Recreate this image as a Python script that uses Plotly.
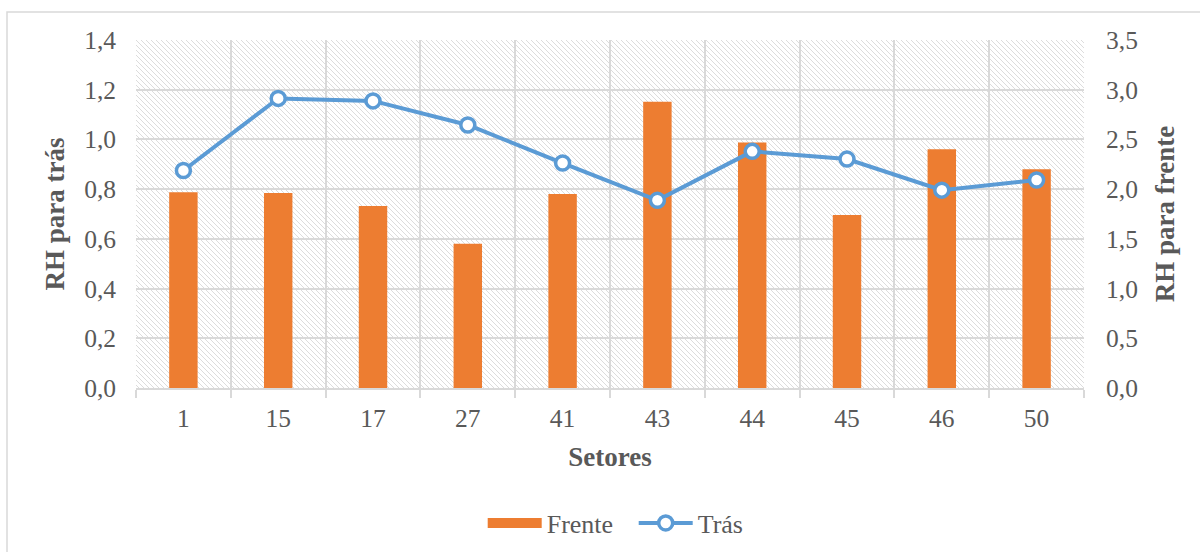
import base64
import plotly.graph_objects as go

# Sectors and relative humidity readings
setores = ["1", "15", "17", "27", "41", "43", "44", "45", "46", "50"]
frente = [1.97, 1.96, 1.83, 1.45, 1.95, 2.88, 2.47, 1.74, 2.40, 2.20]
tras = [0.875, 1.165, 1.155, 1.058, 0.905, 0.755, 0.952, 0.921, 0.796, 0.837]

ORANGE = "#ED7D31"
BLUE = "#5B9BD5"
GRID = "#D9D9D9"
TEXT = "#595959"
FONT = "Liberation Serif"

W, H = 1200, 552
ML, MR, MT, MB = 136, 116, 40, 164
PW, PH = W - ML - MR, H - MT - MB

# Light downward-diagonal hatch for the plot area background
hatch_svg = f"""<svg xmlns="http://www.w3.org/2000/svg" width="{PW}" height="{PH}">
<defs><pattern id="h" width="5" height="5" patternUnits="userSpaceOnUse">
<path d="M0,0 L5,5 M-1,4 L1,6 M4,-1 L6,1" stroke="#DCDCDC" stroke-width="1"/>
</pattern></defs>
<rect width="{PW}" height="{PH}" fill="#FFFFFF"/>
<rect width="{PW}" height="{PH}" fill="url(#h)"/>
</svg>"""
hatch_src = "data:image/svg+xml;base64," + base64.b64encode(hatch_svg.encode()).decode()

fig = go.Figure()

# Columns: RH para frente (right-hand scale)
fig.add_trace(go.Bar(
    x=setores, y=frente, name="Frente", yaxis="y",
    marker=dict(color=ORANGE, line=dict(width=0)),
    showlegend=False,
))
# Legend entry for the columns, drawn as a wide bar swatch
fig.add_trace(go.Scatter(
    x=[None], y=[None], name="Frente", yaxis="y", mode="lines",
    line=dict(color=ORANGE, width=11),
))
# Line: RH para trás (left-hand scale)
fig.add_trace(go.Scatter(
    x=setores, y=tras, name="Trás", yaxis="y2", mode="lines+markers",
    line=dict(color=BLUE, width=4),
    marker=dict(symbol="circle", size=14, color="#FFFFFF",
                line=dict(color=BLUE, width=3.5)),
))

fig.update_layout(
    width=W, height=H,
    margin=dict(l=ML, r=MR, t=MT, b=MB, autoexpand=False),
    paper_bgcolor="#FFFFFF", plot_bgcolor="rgba(0,0,0,0)",
    separators=",.",
    font=dict(family=FONT, color=TEXT, size=25),
    bargap=0.7,
    xaxis=dict(
        type="category", tickson="boundaries", ticks="outside",
        ticklen=8, tickwidth=2, tickcolor=GRID,
        showgrid=True, gridcolor=GRID, gridwidth=2,
        showline=True, linecolor=GRID, linewidth=2,
        ticklabelstandoff=6,
        tickfont=dict(size=25.5, color=TEXT),
        title=dict(text="<b>Setores</b>", font=dict(size=27, color=TEXT), standoff=16),
        range=[-0.5, 9.5],
    ),
    yaxis=dict(
        side="right", range=[0, 3.5], dtick=0.5, tickformat=".1f",
        showgrid=True, gridcolor=GRID, gridwidth=2, zeroline=False,
        showline=False, ticks="", ticklabelstandoff=21,
        tickfont=dict(size=25.5, color=TEXT),
        title=dict(text="<b>RH para frente</b>", font=dict(size=27, color=TEXT), standoff=18),
    ),
    yaxis2=dict(
        overlaying="y", side="left", range=[0, 1.4], dtick=0.2, tickformat=".1f",
        showgrid=False, zeroline=False, showline=False, ticks="",
        ticklabelstandoff=19,
        tickfont=dict(size=25.5, color=TEXT),
        title=dict(text="<b>RH para trás</b>", font=dict(size=27, color=TEXT), standoff=11),
    ),
    legend=dict(
        orientation="h", x=0.525, xanchor="center", y=-0.388, yanchor="middle",
        font=dict(size=26, color=TEXT), itemwidth=54, entrywidth=82,
        traceorder="normal", bgcolor="rgba(0,0,0,0)",
    ),
    images=[dict(
        source=hatch_src, xref="paper", yref="paper", x=0, y=1,
        sizex=1, sizey=1, xanchor="left", yanchor="top",
        sizing="stretch", layer="below",
    )],
    shapes=[dict(
        type="rect", xref="paper", yref="paper",
        x0=(7 - ML) / PW, x1=(W + 10 - ML) / PW,
        y0=-(H + 10 - (H - MB)) / PH, y1=((H - MB) - 12) / PH,
        line=dict(color=GRID, width=1.5), fillcolor="rgba(0,0,0,0)", layer="below",
    )],
)

fig.write_html("out.html")
